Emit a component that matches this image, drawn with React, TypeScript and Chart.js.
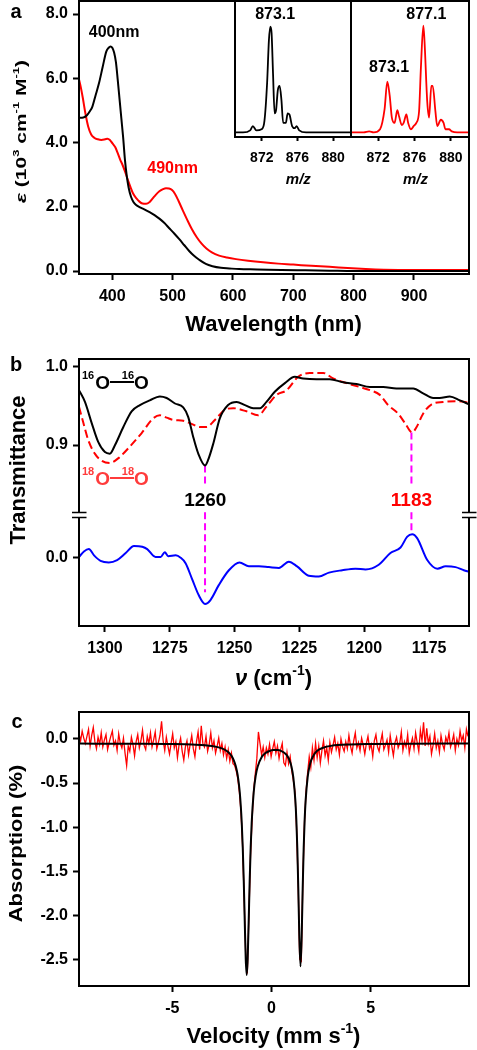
import React, { useEffect, useRef } from "react";
import { Chart, registerables } from "chart.js";

Chart.register(...registerables);

const FAM = "'Liberation Sans', Arial, 'DejaVu Sans', sans-serif";

// ---------------- Panel a : UV-vis ----------------
const A_BLACK_NM = [345, 352, 358, 363, 367, 372, 378, 384, 390, 394, 397, 400, 403, 406, 409, 412, 415, 418, 421, 424, 427, 431, 435, 439, 445, 453, 461, 470, 478, 486, 494, 503, 511, 519, 527, 535, 544, 555, 566, 580, 594, 610, 640, 680, 720, 760, 800, 900, 991];
const A_BLACK_EPS = [4.77, 4.78, 4.85, 4.98, 5.12, 5.45, 5.85, 6.35, 6.83, 6.95, 6.99, 6.95, 6.8, 6.5, 5.95, 5.35, 4.75, 4.15, 3.45, 2.95, 2.6, 2.31, 2.15, 2.06, 1.99, 1.92, 1.84, 1.74, 1.63, 1.5, 1.34, 1.16, 0.99, 0.81, 0.63, 0.48, 0.35, 0.22, 0.15, 0.1, 0.08, 0.06, 0.05, 0.03, 0.02, 0.01, 0.0, 0.0, 0.0];
const A_RED_NM = [345, 348, 351, 355, 360, 365, 370, 376, 382, 388, 392, 396, 400, 405, 409, 413, 417, 421, 425, 430, 434, 440, 445, 450, 456, 462, 467, 472, 478, 484, 489, 494, 499, 504, 510, 517, 524, 532, 540, 548, 556, 565, 577, 590, 605, 625, 650, 675, 700, 730, 760, 790, 820, 850, 900, 950, 991];
const A_RED_EPS = [5.95, 5.7, 5.4, 4.95, 4.5, 4.25, 4.15, 4.1, 4.08, 4.1, 4.12, 4.08, 3.98, 3.85, 3.67, 3.47, 3.3, 3.1, 2.88, 2.62, 2.43, 2.26, 2.16, 2.1, 2.09, 2.15, 2.26, 2.37, 2.48, 2.55, 2.58, 2.57, 2.52, 2.4, 2.17, 1.88, 1.6, 1.3, 1.05, 0.85, 0.7, 0.58, 0.48, 0.42, 0.37, 0.32, 0.27, 0.23, 0.2, 0.16, 0.13, 0.09, 0.06, 0.04, 0.03, 0.03, 0.03];
const A_X_TICKS = [400, 500, 600, 700, 800, 900];
const A_Y_TICKS = [0, 2, 4, 6, 8];
const A_PEAK_LABELS = [
  { text: "400nm", x: 403, y: 7.29, color: "#000000" },
  { text: "490nm", x: 500, y: 3.05, color: "#ff0000" },
];

// insets : mass spectra
const MS16_MZ = [869.0, 869.9, 870.7, 871.0, 871.4, 871.97, 872.3, 872.6, 872.8, 872.96, 873.1, 873.26, 873.44, 873.6, 873.8, 874.0, 874.2, 874.4, 874.7, 874.9, 875.1, 875.4, 875.7, 875.9, 876.2, 876.97, 882.0];
const MS16_I = [0, 0, 2, 6, 2, 3, 11, 47, 87, 100, 94, 56, 18, 21, 40, 44, 31, 9, 9, 18, 17, 6, 4, 6, 2, 0, 0];
const MS18_MZ = [869.0, 870.4, 871.0, 871.5, 872.2, 872.7, 873.0, 873.26, 873.5, 873.8, 874.1, 874.3, 874.6, 874.8, 875.1, 875.3, 875.6, 875.9, 876.2, 876.5, 876.7, 876.97, 877.1, 877.4, 877.6, 877.85, 878.0, 878.3, 878.5, 878.9, 879.2, 879.4, 879.8, 880.1, 880.7, 882.0];
const MS18_I = [0, 0, 1, 0, 3, 22, 48, 35, 14, 9, 21, 15, 7, 9, 17, 9, 3, 6, 9, 20, 61, 101, 86, 29, 14, 44, 44, 20, 6, 12, 9, 3, 3, 1, 0, 0];
const INSET_X_TICKS = [872, 876, 880];
const MS16_LABELS = [{ text: "873.1", x: 873.5, y: 107, color: "#000000" }];
const MS18_LABELS = [
  { text: "877.1", x: 877.3, y: 107, color: "#000000" },
  { text: "873.1", x: 873.2, y: 57.5, color: "#000000" },
];

// ---------------- Panel b : resonance Raman ----------------
const B_BLACK_X = [1310, 1307.7, 1305.1, 1302.6, 1300, 1298.1, 1296.1, 1292.9, 1289.7, 1286.5, 1282.7, 1278.8, 1276.2, 1273, 1269.8, 1267.9, 1266, 1264, 1261.4, 1260.2, 1258.2, 1255.7, 1252.5, 1249.2, 1246, 1242.8, 1240.2, 1237.7, 1234.5, 1230.6, 1226.8, 1223.6, 1218.4, 1213.3, 1208.1, 1203, 1197.8, 1192.7, 1187.6, 1181.1, 1177.3, 1173.4, 1170.9, 1167, 1163.1, 1159.6];
const B_BLACK_T = [0.970, 0.955, 0.928, 0.904, 0.891, 0.889, 0.900, 0.923, 0.943, 0.951, 0.957, 0.962, 0.960, 0.953, 0.948, 0.936, 0.911, 0.889, 0.874, 0.881, 0.902, 0.934, 0.951, 0.955, 0.951, 0.947, 0.947, 0.955, 0.968, 0.979, 0.987, 0.985, 0.984, 0.984, 0.980, 0.978, 0.974, 0.974, 0.972, 0.972, 0.966, 0.960, 0.960, 0.962, 0.957, 0.952];
const B_RED_X = [1310, 1308.3, 1306.4, 1303.9, 1301.3, 1298.1, 1294.9, 1290.4, 1285.9, 1281.4, 1278.8, 1276.2, 1273.7, 1269.8, 1266.6, 1263.4, 1260.8, 1257.6, 1253.7, 1250.5, 1245.4, 1240.9, 1237.7, 1233.8, 1229.9, 1225.5, 1221, 1215.8, 1212, 1206.8, 1201.7, 1197.8, 1194, 1190.8, 1186.9, 1184.3, 1181.5, 1179.8, 1177.3, 1174, 1169.6, 1164.4, 1159.6];
const B_RED_T = [0.949, 0.928, 0.906, 0.889, 0.880, 0.877, 0.883, 0.898, 0.915, 0.934, 0.938, 0.935, 0.932, 0.931, 0.927, 0.923, 0.923, 0.932, 0.945, 0.947, 0.943, 0.938, 0.949, 0.964, 0.970, 0.987, 0.992, 0.992, 0.985, 0.979, 0.974, 0.970, 0.964, 0.951, 0.940, 0.928, 0.916, 0.923, 0.940, 0.952, 0.955, 0.956, 0.954];
const B_BLUE_X = [1310, 1308.1, 1306.2, 1304.2, 1301.7, 1298.5, 1295.3, 1292.0, 1288.8, 1285.6, 1283.7, 1280.5, 1278.5, 1276.9, 1275.6, 1272.7, 1270.8, 1268.9, 1266.3, 1263.8, 1261.4, 1259.3, 1256.1, 1252.2, 1248.1, 1244.5, 1240.6, 1236.8, 1232.9, 1229.1, 1225.9, 1221.4, 1217.5, 1213.6, 1208.5, 1203.4, 1199.5, 1194.4, 1189.9, 1186.0, 1183.4, 1181.5, 1179.6, 1175.7, 1171.8, 1168.6, 1164.8, 1161.6, 1159.6];
const B_BLUE_D = [0.001, 0.008, 0.011, 0.003, -0.004, -0.006, -0.003, 0.006, 0.015, 0.014, 0.011, 0.001, 0.001, 0.007, 0.002, 0.003, 0.000, -0.007, -0.028, -0.048, -0.059, -0.054, -0.035, -0.016, -0.006, -0.011, -0.011, -0.012, -0.013, -0.005, -0.011, -0.023, -0.024, -0.019, -0.016, -0.014, -0.015, -0.009, 0.006, 0.013, 0.027, 0.030, 0.025, -0.003, -0.014, -0.011, -0.012, -0.016, -0.018];
const B_X_TICKS = [1300, 1275, 1250, 1225, 1200, 1175];
const B_T_TICKS = [0.9, 1.0];
const B_D_TICKS = [0];
// axis ranges of the two stacked y scales (transmittance on top, difference trace below)
const B_T_RANGE = [0.669, 1.0098];
const B_D_RANGE = [-0.0872, 0.2538];
// isotope-shift markers: position, top (spectrum minimum), gap around label, end on difference trace
const MARK_X = [1261.4, 1181.8];
const MARK_TOP = [0.874, 0.916];
const MARK_GAP_T = [0.847, 0.847];
const MARK_GAP_D = [0.058, 0.058];
const MARK_END_D = [-0.044, 0.031];
const MARK_LABELS = [
  { text: "1260", x: 1261.3, y: 0.822, color: "#000000" },
  { text: "1183", x: 1181.8, y: 0.822, color: "#ff0000" },
];

// ---------------- Panel c : Mossbauer ----------------
const C_V0 = -9.7;
const C_DV = 0.08;
const C_DATA = [
  0.06, -0.02, 0.09, 0.01, -0.05, 0.03, 0.11, -0.08, 0.04, 0.13,
  -0.03, -0.11, 0.02, -0.06, 0.07, -0.09, -0.01, 0.05, -0.12, -0.04,
  0.03, 0.09, -0.07, -0.02, -0.13, 0.06, -0.05, -0.1, 0.01, -0.16,
  -0.3, -0.08, -0.14, 0.02, -0.06, -0.19, -0.03, 0.05, -0.1, -0.02,
  0.1, -0.07, -0.12, 0.03, -0.05, 0.07, -0.09, -0.01, 0.08, -0.11,
  -0.04, 0.04, 0.2, -0.02, -0.13, 0.02, -0.08, -0.17, -0.05, 0.06,
  -0.1, -0.03, -0.21, -0.07, 0.01, -0.14, -0.24, -0.09, -0.02, -0.18,
  -0.06, 0.04, -0.11, -0.2, -0.03, 0.08, -0.12, 0.15, -0.05, -0.09,
  0.03, -0.14, -0.06, 0.07, -0.1, -0.02, -0.16, -0.08, 0.01, -0.13,
  -0.05, -0.18, -0.09, -0.22, -0.12, -0.25, -0.16, -0.28, -0.3, -0.36,
  -0.45, -0.6, -0.82, -1.2, -1.8, -2.45, -2.66, -2.0, -1.33, -0.92,
  -0.58, -0.4, -0.22, 0.08, -0.05, -0.18, -0.09, -0.21, -0.1, -0.17,
  -0.06, -0.2, -0.11, -0.03, -0.16, -0.08, -0.22, -0.12, -0.05, -0.27,
  -0.3, -0.15, -0.28, -0.2, -0.36, -0.47, -0.6, -1.0, -1.62, -2.5,
  -2.52, -1.58, -0.95, -0.6, -0.38, -0.2, -0.32, -0.1, -0.24, -0.05,
  -0.21, -0.08, -0.27, -0.13, -0.02, -0.19, -0.1, -0.24, -0.04, -0.15,
  -0.07, 0.02, -0.12, -0.05, -0.18, 0.0, -0.09, -0.14, -0.03, -0.11,
  0.04, -0.08, -0.16, -0.02, 0.07, -0.1, -0.04, -0.13, 0.01, -0.07,
  -0.17, -0.05, 0.03, -0.11, -0.06, -0.2, -0.02, 0.05, -0.09, -0.14,
  -0.03, 0.06, -0.12, -0.07, -0.01, -0.15, 0.04, -0.08, -0.19, -0.04,
  0.02, -0.1, -0.05, 0.08, -0.13, -0.03, -0.09, 0.05, -0.16, -0.06,
  0.01, -0.11, 0.07, -0.04, -0.14, 0.1, -0.02, 0.19, -0.08, 0.12,
  -0.05, 0.03, -0.17, -0.07, 0.06, -0.1, -0.02, -0.15, 0.04, -0.06,
  -0.12, 0.02, -0.04, 0.07, -0.09, -0.03, 0.05, -0.13, 0.0, -0.07,
  0.09, -0.02, 0.04, -0.1, 0.11, 0.03,
];
const C_FIT_V = [-9.7, -7, -5, -4, -3, -2.5, -2.2, -2.0, -1.9, -1.8, -1.7, -1.6, -1.5, -1.45, -1.4, -1.35, -1.3, -1.25, -1.2, -1.15, -1.1, -1.05, -1.0, -0.9, -0.8, -0.7, -0.5, -0.3, -0.1, 0.1, 0.3, 0.5, 0.7, 0.8, 0.9, 1.0, 1.1, 1.2, 1.25, 1.3, 1.35, 1.4, 1.46, 1.52, 1.57, 1.62, 1.67, 1.72, 1.82, 1.92, 2.02, 2.12, 2.3, 2.6, 3.0, 4.0, 5.0, 7.0, 9.95];
const C_FIT_A = [-0.052, -0.054, -0.057, -0.063, -0.080, -0.107, -0.145, -0.197, -0.242, -0.309, -0.417, -0.604, -0.95, -1.228, -1.60, -2.06, -2.49, -2.678, -2.49, -2.06, -1.61, -1.23, -0.953, -0.61, -0.422, -0.315, -0.207, -0.159, -0.136, -0.126, -0.126, -0.137, -0.167, -0.194, -0.237, -0.308, -0.438, -0.694, -0.915, -1.24, -1.70, -2.235, -2.58, -2.235, -1.70, -1.24, -0.915, -0.694, -0.435, -0.30, -0.23, -0.185, -0.134, -0.099, -0.078, -0.062, -0.057, -0.053, -0.051];
const C_X_TICKS = [-5, 0, 5];
const C_Y_TICKS = [0, -0.5, -1, -1.5, -2, -2.5];

// ---------------- helpers ----------------
type Seg = { t: string; sup?: boolean; it?: boolean };

function pts(xs: number[], ys: number[]) {
  return xs.map((x, i) => ({ x, y: ys[i] }));
}

function ds(data: any[], color: string, width: number, extra: any = {}) {
  return {
    data,
    borderColor: color,
    backgroundColor: color,
    borderWidth: width,
    pointRadius: 0,
    fill: false,
    cubicInterpolationMode: "monotone",
    ...extra,
  };
}

function fmt1(v: number) {
  const z = Math.abs(v) < 1e-9 ? 0 : v;
  return z.toFixed(1);
}

function linAxis(o: any) {
  return {
    type: "linear",
    display: o.display ?? true,
    bounds: "data",
    min: o.min,
    max: o.max,
    reverse: !!o.reverse,
    position: o.horizontal ? "bottom" : "left",
    weight: o.weight ?? 0,
    afterBuildTicks: (s: any) => {
      s.ticks = o.ticks.map((v: number) => ({ value: v }));
    },
    afterFit: (s: any) => {
      if (o.horizontal) s.height = o.size;
      else s.width = o.size;
      s.paddingLeft = 0;
      s.paddingRight = 0;
      s.paddingTop = 0;
      s.paddingBottom = 0;
    },
    grid: {
      display: true,
      drawOnChartArea: false,
      drawTicks: true,
      tickLength: o.tickLen ?? 6,
      tickWidth: 2,
      tickColor: "#000",
      color: "#000",
    },
    border: { display: false },
    ticks: {
      color: "#000",
      autoSkip: false,
      maxRotation: 0,
      minRotation: 0,
      padding: o.pad ?? 5,
      font: { family: FAM, size: o.font ?? 16, weight: "bold" },
      callback: (v: any) => o.fmt(Number(v)),
    },
    title: { display: false },
  };
}

function baseOptions(padding: any, scales: any) {
  return {
    responsive: false,
    animation: false,
    devicePixelRatio: 1,
    events: [],
    layout: { padding },
    plugins: { legend: { display: false }, tooltip: { enabled: false }, title: { display: false } },
    scales,
  };
}

function frame(ctx: any, a: any) {
  ctx.save();
  ctx.strokeStyle = "#000";
  ctx.lineWidth = 2;
  ctx.setLineDash([]);
  ctx.strokeRect(a.left, a.top, a.right - a.left, a.bottom - a.top);
  ctx.restore();
}

function txt(ctx: any, s: string, x: number, y: number, font: string, color: string, align = "center", baseline = "alphabetic") {
  ctx.save();
  ctx.font = font;
  ctx.fillStyle = color;
  ctx.textAlign = align;
  ctx.textBaseline = baseline;
  ctx.fillText(s, x, y);
  ctx.restore();
}

function richText(ctx: any, segs: Seg[], x: number, y: number, size: number, color: string, rotate = false, squash = 1) {
  ctx.save();
  ctx.translate(x, y);
  if (rotate) ctx.rotate(-Math.PI / 2);
  ctx.scale(1, squash);
  ctx.fillStyle = color;
  ctx.textAlign = "left";
  ctx.textBaseline = "alphabetic";
  const fontOf = (s: Seg) => `${s.it ? "italic " : ""}bold ${s.sup ? Math.round(size * 0.62) : size}px ${FAM}`;
  let total = 0;
  const widths = segs.map((s) => {
    ctx.font = fontOf(s);
    const w = ctx.measureText(s.t).width;
    total += w;
    return w;
  });
  let cx = -total / 2;
  segs.forEach((s, i) => {
    ctx.font = fontOf(s);
    ctx.fillText(s.t, cx, s.sup ? -size * 0.45 : 0);
    cx += widths[i];
  });
  ctx.restore();
}

function isotope(ctx: any, x: number, base: number, mass: string, color: string) {
  ctx.save();
  ctx.fillStyle = color;
  ctx.strokeStyle = color;
  ctx.textAlign = "left";
  ctx.textBaseline = "alphabetic";
  const supF = `bold 11px ${FAM}`;
  const oF = `bold 19px ${FAM}`;
  ctx.font = supF;
  const w1 = ctx.measureText(mass).width;
  ctx.fillText(mass, x, base - 10);
  ctx.font = oF;
  const wO = ctx.measureText("O").width;
  let cx = x + w1 + 1;
  ctx.fillText("O", cx, base);
  cx += wO;
  const bond = 24;
  ctx.lineWidth = 2;
  ctx.setLineDash([]);
  ctx.beginPath();
  ctx.moveTo(cx, base - 7);
  ctx.lineTo(cx + bond, base - 7);
  ctx.stroke();
  ctx.font = supF;
  ctx.fillText(mass, cx + bond - w1, base - 10);
  ctx.font = oF;
  ctx.fillText("O", cx + bond, base);
  ctx.restore();
}

// ---------------- chart builders ----------------
function buildA() {
  return {
    type: "line",
    data: {
      datasets: [
        ds(pts(A_BLACK_NM, A_BLACK_EPS), "#000000", 2),
        ds(pts(A_RED_NM, A_RED_EPS), "#ff0000", 2),
      ],
    },
    options: baseOptions({ left: 0, right: 8, top: 1, bottom: 0 }, {
      x: linAxis({ min: 344.8, max: 991.2, ticks: A_X_TICKS, fmt: (v: number) => String(v), horizontal: true, size: 71, pad: 7 }),
      y: linAxis({ min: -0.093, max: 8.405, ticks: A_Y_TICKS, fmt: fmt1, horizontal: false, size: 79, pad: 5 }),
    }),
    plugins: [
      {
        id: "decoA",
        afterDraw(chart: any) {
          const { ctx, chartArea: a, scales } = chart;
          frame(ctx, a);
          txt(ctx, "a", 16, 12, `bold 20px ${FAM}`, "#000", "center", "middle");
          A_PEAK_LABELS.forEach((l) =>
            txt(ctx, l.text, scales.x.getPixelForValue(l.x), scales.y.getPixelForValue(l.y), `bold 16px ${FAM}`, l.color)
          );
          richText(
            ctx,
            [{ t: "ε", it: true }, { t: " (10" }, { t: "3", sup: true }, { t: " cm" }, { t: "-1", sup: true }, { t: " M" }, { t: "-1", sup: true }, { t: ")" }],
            26, 131.5, 21, "#000", true, 0.72
          );
          richText(ctx, [{ t: "Wavelength (nm)" }], 273.5, 331, 22, "#000");
        },
      },
    ],
  };
}

function buildInset(mz: number[], inten: number[], color: string, labels: any[]) {
  return {
    type: "line",
    data: { datasets: [ds(pts(mz, inten), color, 1.8)] },
    options: baseOptions({ left: 4, right: 4, top: 1, bottom: 0 }, {
      x: linAxis({ min: 869, max: 882, ticks: INSET_X_TICKS, fmt: (v: number) => String(v), horizontal: true, size: 58, tickLen: 4, pad: 9, font: 14 }),
      y: { type: "linear", display: false, min: -4.3, max: 124.2 },
    }),
    plugins: [
      {
        id: "inset",
        beforeDraw(chart: any) {
          const { ctx, chartArea: a } = chart;
          ctx.save();
          ctx.fillStyle = "#ffffff";
          ctx.fillRect(a.left, a.top, a.right - a.left, a.bottom - a.top);
          ctx.restore();
        },
        afterDraw(chart: any) {
          const { ctx, chartArea: a, scales } = chart;
          frame(ctx, a);
          labels.forEach((l) =>
            txt(ctx, l.text, scales.x.getPixelForValue(l.x), scales.y.getPixelForValue(l.y), `bold 16px ${FAM}`, l.color)
          );
          txt(ctx, "m/z", scales.x.getPixelForValue(876.1), 184, `italic bold 15px ${FAM}`, "#000");
        },
      },
    ],
  };
}

function buildB() {
  const [tMin, tMax] = B_T_RANGE;
  const [dMin, dMax] = B_D_RANGE;
  // value on the transmittance scale that sits at the same height as each difference-trace tick
  const dTicksOnT = B_D_TICKS.map((d) => tMin + ((d - dMin) / (dMax - dMin)) * (tMax - tMin));
  const fmtT = (v: number) => {
    const k = dTicksOnT.findIndex((t) => Math.abs(t - v) < 1e-7);
    return k >= 0 ? fmt1(B_D_TICKS[k]) : fmt1(v);
  };
  const mag = { borderDash: [7, 4], cubicInterpolationMode: "default", tension: 0 };
  const markSets: any[] = [];
  MARK_X.forEach((x, i) => {
    markSets.push(ds([{ x, y: MARK_TOP[i] }, { x, y: MARK_GAP_T[i] }], "#ff00ff", 2, { ...mag, yAxisID: "y" }));
    markSets.push(ds([{ x, y: MARK_GAP_D[i] }, { x, y: MARK_END_D[i] }], "#ff00ff", 2, { ...mag, yAxisID: "y2" }));
  });
  return {
    type: "line",
    data: {
      datasets: [
        ds(pts(B_BLACK_X, B_BLACK_T), "#000000", 2, { yAxisID: "y" }),
        ds(pts(B_RED_X, B_RED_T), "#ff0000", 2, { yAxisID: "y", borderDash: [8, 4] }),
        ds(pts(B_BLUE_X, B_BLUE_D), "#0000ff", 2, { yAxisID: "y2" }),
        ...markSets,
      ],
    },
    options: baseOptions({ left: 0, right: 8, top: 14, bottom: 0 }, {
      x: linAxis({ min: 1159.6, max: 1310, reverse: true, ticks: B_X_TICKS, fmt: (v: number) => String(v), horizontal: true, size: 74, pad: 7 }),
      y: linAxis({ min: tMin, max: tMax, ticks: [...dTicksOnT, ...B_T_TICKS], fmt: fmtT, horizontal: false, size: 79, pad: 5 }),
      y2: { type: "linear", display: false, position: "left", min: dMin, max: dMax },
    }),
    plugins: [
      {
        id: "decoB",
        afterDraw(chart: any) {
          const { ctx, chartArea: a, scales } = chart;
          frame(ctx, a);
          // axis break marks
          const yb = 170;
          ctx.save();
          [a.left, a.right].forEach((x: number) => {
            ctx.fillStyle = "#ffffff";
            ctx.fillRect(x - 2, yb - 2, 4, 4);
            ctx.strokeStyle = "#000";
            ctx.lineWidth = 1.5;
            ctx.setLineDash([]);
            ctx.beginPath();
            ctx.moveTo(x - 7, yb - 2.5);
            ctx.lineTo(x + 7.5, yb - 2.5);
            ctx.moveTo(x - 7, yb + 2.5);
            ctx.lineTo(x + 7.5, yb + 2.5);
            ctx.stroke();
          });
          ctx.restore();
          txt(ctx, "b", 16, 20, `bold 20px ${FAM}`, "#000", "center", "middle");
          richText(ctx, [{ t: "Transmittance" }], 25, 125, 22, "#000", true, 1);
          isotope(ctx, 82, 44, "16", "#000000");
          isotope(ctx, 82, 140, "18", "#ff3b3b");
          MARK_LABELS.forEach((l) =>
            txt(ctx, l.text, scales.x.getPixelForValue(l.x), scales.y.getPixelForValue(l.y), `bold 19px ${FAM}`, l.color)
          );
          richText(ctx, [{ t: "ν", it: true }, { t: " (cm" }, { t: "-1", sup: true }, { t: ")" }], 273.5, 340, 22, "#000");
        },
      },
    ],
  };
}

function buildC() {
  const dataPts = C_DATA.map((y, i) => ({ x: C_V0 + C_DV * i, y }));
  return {
    type: "line",
    data: {
      datasets: [
        ds(pts(C_FIT_V, C_FIT_A), "#000000", 2),
        ds(dataPts, "#ff0000", 1.3, { cubicInterpolationMode: "default", tension: 0 }),
      ],
    },
    options: baseOptions({ left: 0, right: 8, top: 12, bottom: 0 }, {
      x: linAxis({ min: -9.7, max: 9.95, ticks: C_X_TICKS, fmt: (v: number) => String(v), horizontal: true, size: 64, pad: 7 }),
      y: linAxis({ min: -2.803, max: 0.3064, ticks: C_Y_TICKS, fmt: fmt1, horizontal: false, size: 79, pad: 5 }),
    }),
    plugins: [
      {
        id: "decoC",
        afterDraw(chart: any) {
          const { ctx, chartArea: a } = chart;
          frame(ctx, a);
          txt(ctx, "c", 17, 22, `bold 20px ${FAM}`, "#000", "center", "middle");
          richText(ctx, [{ t: "Absorption (%)" }], 22, 143.5, 22, "#000", true, 0.85);
          richText(ctx, [{ t: "Velocity (mm s" }, { t: "-1", sup: true }, { t: ")" }], 273.5, 343, 22, "#000");
        },
      },
    ],
  };
}

function ChartBox({ left, top, width, height, build }: any) {
  const ref = useRef<HTMLCanvasElement>(null);
  useEffect(() => {
    const chart = new Chart(ref.current as HTMLCanvasElement, build());
    return () => chart.destroy();
  }, []);
  return (
    <canvas
      ref={ref}
      width={width}
      height={height}
      style={{ position: "absolute", left, top, width, height, display: "block" }}
    />
  );
}

export default function App() {
  return (
    <div style={{ position: "absolute", left: 0, top: 0, width: 477, height: 1050, background: "#ffffff", overflow: "hidden" }}>
      <ChartBox left={0} top={0} width={477} height={345} build={buildA} />
      <ChartBox left={231} top={0} width={124} height={195} build={() => buildInset(MS16_MZ, MS16_I, "#000000", MS16_LABELS)} />
      <ChartBox left={347} top={0} width={126} height={195} build={() => buildInset(MS18_MZ, MS18_I, "#ff0000", MS18_LABELS)} />
      <ChartBox left={0} top={345} width={477} height={355} build={buildB} />
      <ChartBox left={0} top={700} width={477} height={350} build={buildC} />
    </div>
  );
}
